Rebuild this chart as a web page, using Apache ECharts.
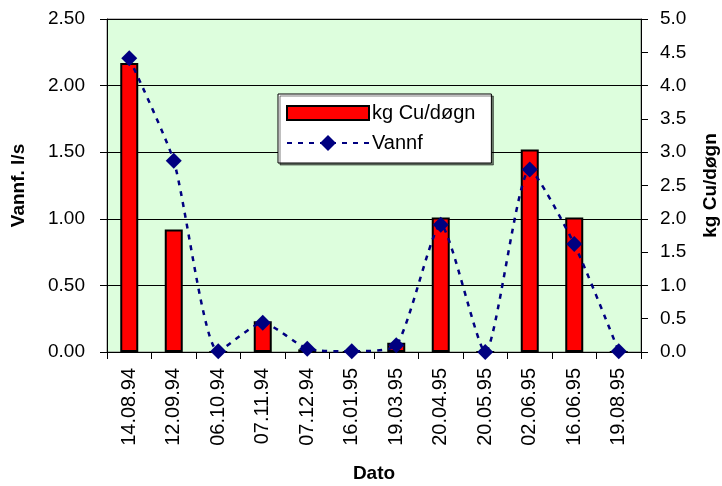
<!DOCTYPE html>
<html>
<head>
<meta charset="utf-8">
<script src="https://cdn.jsdelivr.net/npm/echarts@6/dist/echarts.min.js"></script>
<style>
  html, body { margin: 0; padding: 0; background: #fff; }
  #chart { width: 722px; height: 486px; }
</style>
</head>
<body>
<div id="chart"></div>
<script>
var datoer = ['14.08.94', '12.09.94', '06.10.94', '07.11.94', '07.12.94', '16.01.95',
              '19.03.95', '20.04.95', '20.05.95', '02.06.95', '16.06.95', '19.08.95'];
var kgCu = [2.17, 0.92, 0, 0.23, 0.02, 0, 0.07, 1.01, 0, 1.52, 1.01, 0];
var vannf = [4.41, 2.87, 0.01, 0.44, 0.05, 0.01, 0.1, 1.91, 0, 2.74, 1.62, 0.01];
var fnt = 'Liberation Sans, Arial, sans-serif';
var navy = '#000080';

var legendText = { fontSize: 20, color: '#000', fontFamily: fnt, padding: [0, 0, 0, -2] };

var option = {
    animation: false,
    textStyle: { fontFamily: fnt },
    grid: {
        left: 107, right: 81, top: 19, bottom: 134,
        outerBoundsMode: 'none',
        containLabel: false,
        show: true,
        backgroundColor: '#DDFEDD',
        borderColor: '#808080',
        borderWidth: 1
    },
    legend: [
        {
            // bar item + the white box around both items
            orient: 'vertical',
            left: 278, top: 94,
            padding: [9, 16, 40, 8],
            itemWidth: 82,
            itemHeight: 14,
            backgroundColor: '#fff',
            borderColor: '#000',
            borderWidth: 1,
            shadowColor: 'rgba(0,0,0,0.5)',
            shadowBlur: 0,
            shadowOffsetX: 2,
            shadowOffsetY: 2,
            textStyle: legendText,
            data: [{ name: 'kg Cu/døgn', icon: 'rect' }]
        },
        {
            orient: 'vertical',
            left: 278, top: 133,
            padding: [0, 8, 0, 8],
            itemWidth: 82,
            itemHeight: 20,
            textStyle: legendText,
            data: [{ name: 'Vannf' }]
        }
    ],
    xAxis: {
        type: 'category',
        data: datoer,
        name: 'Dato',
        nameLocation: 'middle',
        nameGap: 112,
        nameTextStyle: { fontSize: 19, fontWeight: 'bold', color: '#000' },
        axisLine: { lineStyle: { color: '#000', width: 1 } },
        axisTick: { show: true, length: 7, lineStyle: { color: '#000' } },
        axisLabel: { rotate: 90, fontSize: 20, color: '#000', margin: 16 }
    },
    yAxis: [
        {
            type: 'value',
            min: 0, max: 2.5, interval: 0.5,
            name: 'Vannf. l/s',
            nameLocation: 'middle',
            nameGap: 79,
            nameRotate: 90,
            nameTextStyle: { fontSize: 19, fontWeight: 'bold', color: '#000' },
            axisLine: { show: true, lineStyle: { color: '#000' } },
            axisTick: { show: true, length: 7, lineStyle: { color: '#000' } },
            axisLabel: {
                fontSize: 19, color: '#000', margin: 22,
                formatter: function (v) { return v.toFixed(2); }
            },
            splitLine: { show: true, lineStyle: { color: '#000', width: 1 } }
        },
        {
            type: 'value',
            min: 0, max: 5, interval: 0.5,
            name: 'kg Cu/døgn',
            nameLocation: 'middle',
            nameGap: 60,
            nameRotate: 90,
            nameTextStyle: { fontSize: 19, fontWeight: 'bold', color: '#000' },
            axisLine: { show: true, lineStyle: { color: '#000' } },
            axisTick: { show: true, length: 7, lineStyle: { color: '#000' } },
            axisLabel: {
                fontSize: 19, color: '#000', margin: 19,
                formatter: function (v) { return v.toFixed(1); }
            },
            splitLine: { show: false }
        }
    ],
    series: [
        {
            name: 'kg Cu/døgn',
            type: 'bar',
            yAxisIndex: 0,
            data: kgCu,
            barWidth: 18,
            itemStyle: { color: '#FF0000', borderColor: '#000', borderWidth: 2 }
        },
        {
            name: 'Vannf',
            type: 'line',
            yAxisIndex: 1,
            data: vannf,
            smooth: 0.2,
            symbol: 'diamond',
            symbolSize: 16,
            itemStyle: { color: navy },
            lineStyle: { color: navy, width: 2.5, type: [5, 6] }
        }
    ]
};

var myChart = echarts.init(document.getElementById('chart'));
myChart.setOption(option);
</script>
</body>
</html>
